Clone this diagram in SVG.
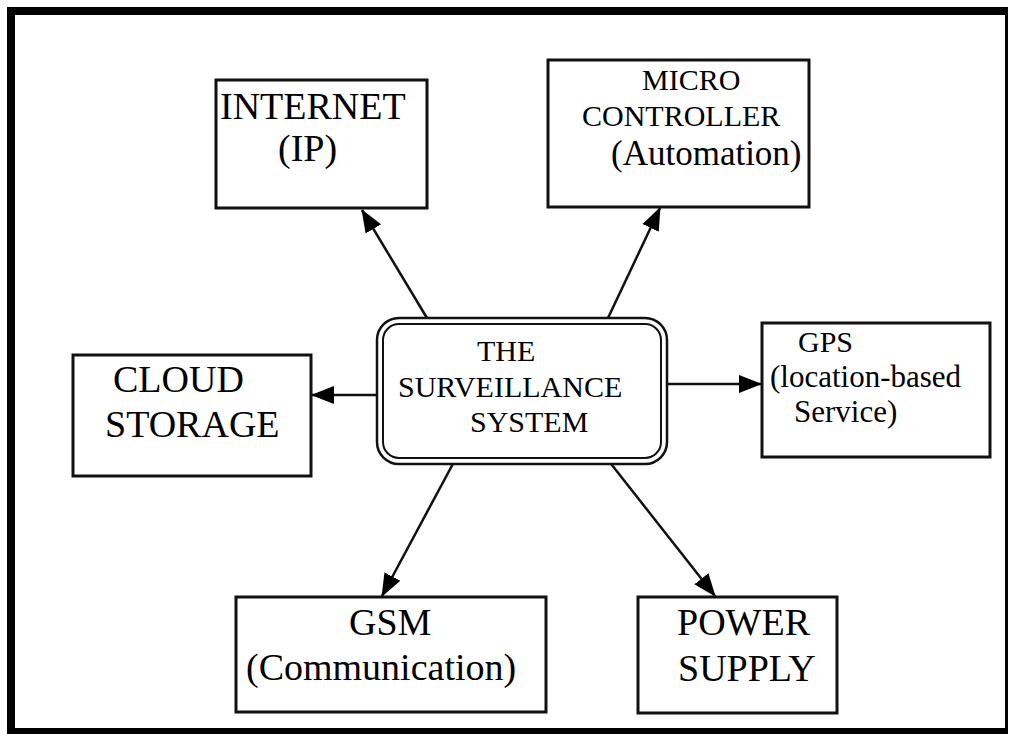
<svg xmlns="http://www.w3.org/2000/svg" width="1010" height="734" viewBox="0 0 1010 734">
  <style>
    .box { fill: #ffffff; stroke: #111111; stroke-width: 3; }
    .core { fill: #ffffff; stroke: #111111; }
    .lbl { font-family: "Liberation Serif", "Times New Roman", serif; fill: #000000; }
    .edge { stroke: #111111; stroke-width: 2.5; fill: none; marker-end: url(#head); }
  </style>
  <defs>
    <marker id="head" markerUnits="userSpaceOnUse" markerWidth="24" markerHeight="20" viewBox="0 0 24 20" refX="22" refY="10" orient="auto">
      <path d="M0,1 L23,10 L0,19 Z" fill="#000000"/>
    </marker>
  </defs>

  <!-- page frame -->
  <rect x="0" y="0" width="1010" height="734" fill="#ffffff"/>
  <g id="frame" fill="#000000">
    <rect x="7" y="7" width="1001" height="8"/>
    <rect x="7" y="7" width="8" height="727"/>
    <rect x="1005" y="7" width="3" height="727"/>
    <rect x="7" y="728" width="1001" height="6"/>
  </g>

  <!-- connectors -->
  <g id="connectors">
    <line class="edge" x1="427" y1="318" x2="362" y2="210"/>
    <line class="edge" x1="608" y1="318" x2="660" y2="208"/>
    <line class="edge" x1="381" y1="395" x2="312" y2="395"/>
    <line class="edge" x1="662" y1="384" x2="761" y2="384"/>
    <line class="edge" x1="455" y1="460" x2="382" y2="596"/>
    <line class="edge" x1="608" y1="460" x2="715" y2="596"/>
  </g>

  <!-- central node -->
  <g id="surveillance-system">
    <rect class="core" x="377" y="318" width="290" height="146" rx="22" stroke-width="2.5"/>
    <rect class="core" x="383" y="324" width="278" height="134" rx="16" stroke-width="2"/>
    <text class="lbl" font-size="30" x="477" y="361">THE</text>
    <text class="lbl" font-size="30" x="398" y="397">SURVEILLANCE</text>
    <text class="lbl" font-size="30" x="470" y="432">SYSTEM</text>
  </g>

  <g id="internet">
    <rect class="box" x="216" y="80" width="211" height="128"/>
    <text class="lbl" font-size="38" x="220" y="119">INTERNET</text>
    <text class="lbl" font-size="38" x="278" y="161">(IP)</text>
  </g>

  <g id="micro-controller">
    <rect class="box" x="548" y="60" width="261" height="147"/>
    <text class="lbl" font-size="30" x="642" y="90">MICRO</text>
    <text class="lbl" font-size="30" x="582" y="126">CONTROLLER</text>
    <text class="lbl" font-size="35" x="611" y="165">(Automation)</text>
  </g>

  <g id="cloud-storage">
    <rect class="box" x="73" y="355" width="238" height="121"/>
    <text class="lbl" font-size="38" x="113" y="392">CLOUD</text>
    <text class="lbl" font-size="38" x="105" y="437">STORAGE</text>
  </g>

  <g id="gps">
    <rect class="box" x="762" y="323" width="228" height="134"/>
    <text class="lbl" font-size="30" x="798" y="352">GPS</text>
    <text class="lbl" font-size="31" x="770" y="387">(location-based</text>
    <text class="lbl" font-size="31" x="794" y="422">Service)</text>
  </g>

  <g id="gsm">
    <rect class="box" x="236" y="597" width="310" height="115"/>
    <text class="lbl" font-size="38" x="349" y="635">GSM</text>
    <text class="lbl" font-size="38" x="246" y="680">(Communication)</text>
  </g>

  <g id="power-supply">
    <rect class="box" x="638" y="597" width="199" height="116"/>
    <text class="lbl" font-size="38" x="677" y="635">POWER</text>
    <text class="lbl" font-size="38" x="678" y="681">SUPPLY</text>
  </g>
</svg>
